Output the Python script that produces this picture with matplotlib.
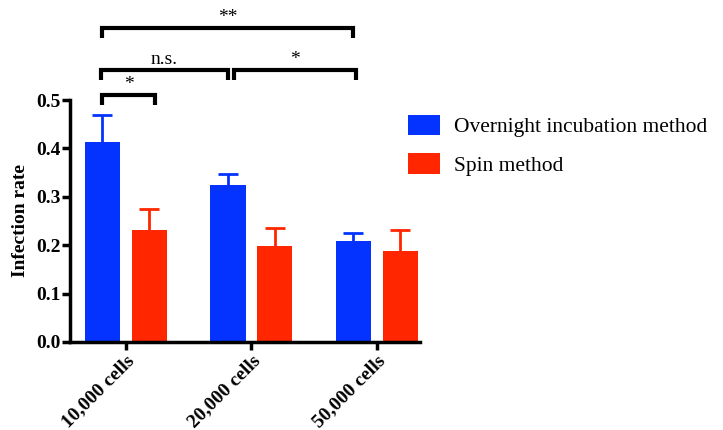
import matplotlib
matplotlib.use("Agg")
import matplotlib.pyplot as plt
import numpy as np

categories = ["10,000 cells", "20,000 cells", "50,000 cells"]
series_names = ["Overnight incubation method", "Spin method"]
overnight = [0.413, 0.324, 0.208]
overnight_err = [0.056, 0.023, 0.017]
spin = [0.231, 0.198, 0.188]
spin_err = [0.044, 0.037, 0.044]
yticks = [0.0, 0.1, 0.2, 0.3, 0.4, 0.5]
# brackets: (x1, x2, y, label)
brackets = [
    (-0.19, 0.23, 0.51, "*"),
    (-0.20, 0.81, 0.563, "n.s."),
    (0.86, 1.83, 0.563, "*"),
    (-0.19, 1.81, 0.649, "**"),
]

plt.rcParams['font.family'] = ['Liberation Serif', 'DejaVu Serif']

fig = plt.figure(figsize=(7.23, 4.30), dpi=100)
ax = fig.add_axes([0.0968, 0.2047, 0.484, 0.5627])

x = np.arange(len(categories))
off = 0.187
w = 0.28
blue = "#0433FF"
red = "#FF2600"
ax.bar(x - off, overnight, w, color=blue, label=series_names[0], zorder=2)
ax.bar(x + off, spin, w, color=red, label=series_names[1], zorder=2)
for xs, vals, errs, col in [(x - off, overnight, overnight_err, blue),
                            (x + off, spin, spin_err, red)]:
    eb = ax.errorbar(xs, vals, yerr=[np.zeros(3), errs], fmt='none',
                     ecolor=col, elinewidth=2, capsize=7, capthick=2, zorder=1)
    eb[1][0].set_visible(False)

ax.set_xlim(-0.446, 2.343)
ax.set_ylim(0, 0.5)
ax.set_yticks(yticks)
ax.set_yticklabels([f"{v:.1f}" for v in yticks], fontweight='bold', fontsize=14)
ax.set_xticks(x)
ax.set_xticklabels(categories, rotation=45, ha='right', rotation_mode='anchor',
                   fontweight='bold', fontsize=14)
ax.set_ylabel("Infection rate", fontweight='bold', fontsize=14, labelpad=5)
for s in ['top', 'right']:
    ax.spines[s].set_visible(False)
for s in ['left', 'bottom']:
    ax.spines[s].set_linewidth(2.5)
ax.tick_params(axis='both', direction='out', length=6, width=2.5, pad=1)

leg_h = 0.021
for (x1, x2, y, lab) in brackets:
    ax.plot([x1, x1, x2, x2], [y - leg_h, y, y, y - leg_h], color='black',
            lw=3, clip_on=False, solid_capstyle='butt', solid_joinstyle='miter')
    ax.text((x1 + x2) / 2, y + 0.004, lab, ha='center', va='bottom', fontsize=14,
            clip_on=False)

ax.legend(loc='upper left', bbox_to_anchor=(0.911, 1.02), frameon=False,
          fontsize=15.5, handlelength=1.5, handleheight=1.1, labelspacing=0.75,
          handletextpad=0.65)

fig.savefig("out.png", dpi=100)
